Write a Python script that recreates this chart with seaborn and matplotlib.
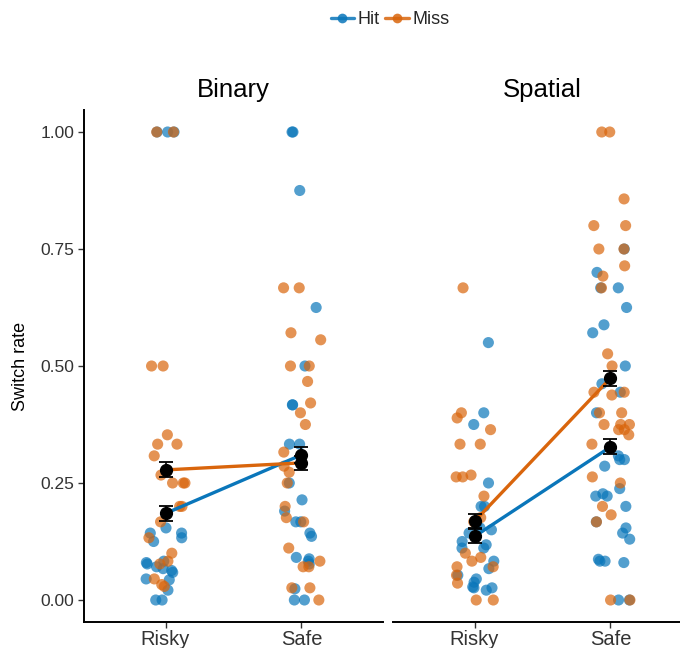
import numpy as np
import pandas as pd
import matplotlib
matplotlib.use("Agg")
import matplotlib.pyplot as plt
from matplotlib.lines import Line2D
import seaborn as sns

# ---------------- data ----------------
panels = ["Binary", "Spatial"]
conditions = ["Risky", "Safe"]
outcomes = ["Hit", "Miss"]

bin_risky_hit = [1, 1, 1, 0.154, 0.143, 0.133, 0.143, 0.125, 0.077, 0.067, 0.08,
                 0.083, 0.063, 0.071, 0.059, 0.043, 0.045, 0.021, 0, 0]
bin_risky_miss = [1, 1, 0.5, 0.5, 0.353, 0.333, 0.333, 0.308, 0.267, 0.25, 0.25,
                  0.25, 0.2, 0.2, 0.167, 0.133, 0.1, 0.083, 0.077, 0.045, 0.033, 0.029]
bin_safe_hit = [1, 1, 0.875, 0.625, 0.5, 0.417, 0.417, 0.333, 0.333, 0.25, 0.214,
                0.19, 0.167, 0.167, 0.143, 0.136, 0.077, 0.088, 0.091, 0.083, 0.024, 0, 0]
bin_safe_miss = [0.667, 0.667, 0.571, 0.556, 0.5, 0.5, 0.467, 0.421, 0.4, 0.375,
                 0.316, 0.286, 0.273, 0.25, 0.2, 0.176, 0.167, 0.111, 0.083, 0.071,
                 0.071, 0.026, 0.026, 0]
sp_risky_hit = [0.55, 0.4, 0.375, 0.25, 0.2, 0.2, 0.15, 0.154, 0.143, 0.16, 0.125,
                0.111, 0.111, 0.118, 0.083, 0.067, 0.045, 0.053, 0.038, 0.026,
                0.021, 0.026, 0.028]
sp_risky_miss = [0.667, 0.4, 0.389, 0.364, 0.333, 0.333, 0.267, 0.263, 0.263, 0.222,
                 0.176, 0.167, 0.1, 0.091, 0.071, 0.083, 0.071, 0.053, 0.036, 0, 0]
sp_safe_hit = [0.75, 0.7, 0.667, 0.667, 0.625, 0.588, 0.571, 0.5, 0.462, 0.444, 0.4,
               0.308, 0.3, 0.3, 0.286, 0.238, 0.222, 0.227, 0.222, 0.2, 0.167,
               0.154, 0.143, 0.13, 0.083, 0.087, 0.083, 0.08, 0, 0]
sp_safe_miss = [1, 1, 0.857, 0.8, 0.8, 0.75, 0.75, 0.714, 0.692, 0.667, 0.526, 0.5,
                0.444, 0.444, 0.438, 0.4, 0.4, 0.375, 0.375, 0.375, 0.353, 0.364,
                0.364, 0.333, 0.263, 0.25, 0.2, 0.182, 0.167, 0, 0]

# group means and standard errors (Risky, Safe)
mean_bin_hit = [0.185, 0.310]
se_bin_hit = [0.016, 0.017]
mean_bin_miss = [0.278, 0.293]
se_bin_miss = [0.016, 0.015]
mean_sp_hit = [0.136, 0.327]
se_sp_hit = [0.015, 0.016]
mean_sp_miss = [0.168, 0.474]
se_sp_miss = [0.015, 0.016]

raw = {
    ("Binary", "Risky", "Hit"): bin_risky_hit,
    ("Binary", "Risky", "Miss"): bin_risky_miss,
    ("Binary", "Safe", "Hit"): bin_safe_hit,
    ("Binary", "Safe", "Miss"): bin_safe_miss,
    ("Spatial", "Risky", "Hit"): sp_risky_hit,
    ("Spatial", "Risky", "Miss"): sp_risky_miss,
    ("Spatial", "Safe", "Hit"): sp_safe_hit,
    ("Spatial", "Safe", "Miss"): sp_safe_miss,
}
rows = []
for (p, c, o), vals in raw.items():
    for v in vals:
        rows.append({"panel": p, "cond": c, "outcome": o, "rate": v})
df = pd.DataFrame(rows)

means = {
    "Binary": {"Hit": (mean_bin_hit, se_bin_hit), "Miss": (mean_bin_miss, se_bin_miss)},
    "Spatial": {"Hit": (mean_sp_hit, se_sp_hit), "Miss": (mean_sp_miss, se_sp_miss)},
}

# ---------------- style ----------------
sns.set_theme(style="ticks")
plt.rcParams["font.family"] = ["Liberation Sans", "DejaVu Sans"]
palette = {"Hit": "#0A76BA", "Miss": "#D9650C"}

W, H = 680, 648
fig = plt.figure(figsize=(W / 100, H / 100), dpi=100)

ax_bottom = (H - 622) / H
ax_h = (622 - 110) / H
ax_w = 299 / W
lefts = [84 / W, 393 / W]

np.random.seed(3)
for i, panel in enumerate(panels):
    ax = fig.add_axes([lefts[i], ax_bottom, ax_w, ax_h])
    sub = df[df["panel"] == panel]
    sns.stripplot(data=sub, x="cond", y="rate", hue="outcome",
                  order=conditions, hue_order=outcomes, palette=palette,
                  jitter=0.15, size=8, alpha=0.7, linewidth=0,
                  ax=ax, legend=False, zorder=2)
    xs = np.arange(len(conditions))
    for o in outcomes:
        m, se = means[panel][o]
        ax.plot(xs, m, color=palette[o], lw=2.4, zorder=3, solid_capstyle="butt")
    for o in outcomes:
        m, se = means[panel][o]
        ax.errorbar(xs, m, yerr=se, fmt="o", color="black", ms=8.5,
                    elinewidth=1.2, capsize=4.8, capthick=1.3, zorder=4)
    ax.set_xlim(-0.6, 1.6)
    ax.set_ylim(-0.047, 1.047)
    ax.set_xlabel("")
    ax.set_title(panel, fontsize=18.5, pad=9, color="black")
    for s in ["top", "right"]:
        ax.spines[s].set_visible(False)
    ax.spines["bottom"].set_linewidth(1.4)
    ax.spines["bottom"].set_color("black")
    ax.tick_params(axis="x", labelsize=14.5, colors="#333333", length=4,
                   width=1.0, pad=2)
    if i == 0:
        ax.spines["left"].set_linewidth(1.4)
        ax.spines["left"].set_color("black")
        ax.set_yticks([0, 0.25, 0.5, 0.75, 1.0])
        ax.set_yticklabels(["0.00", "0.25", "0.50", "0.75", "1.00"])
        ax.tick_params(axis="y", labelsize=12.5, colors="#333333", length=4,
                       width=1.0, pad=3)
        ax.set_ylabel("Switch rate", fontsize=13, color="black", labelpad=8)
    else:
        ax.spines["left"].set_visible(False)
        ax.set_yticks([])
        ax.set_ylabel("")
    for lbl in ax.get_xticklabels() + ax.get_yticklabels():
        lbl.set_color("#333333")

handles = [Line2D([0], [0], color=palette[o], lw=2.4, marker="o", ms=7,
                  markerfacecolor=palette[o], markeredgewidth=0, alpha=0.85)
           for o in outcomes]
fig.legend(handles, outcomes, loc="center", ncol=2,
           bbox_to_anchor=(390 / W, 1 - 20 / H), frameon=False,
           fontsize=13, handlelength=1.3, handletextpad=0.2, columnspacing=0.3)

fig.savefig("out.png", dpi=100)
